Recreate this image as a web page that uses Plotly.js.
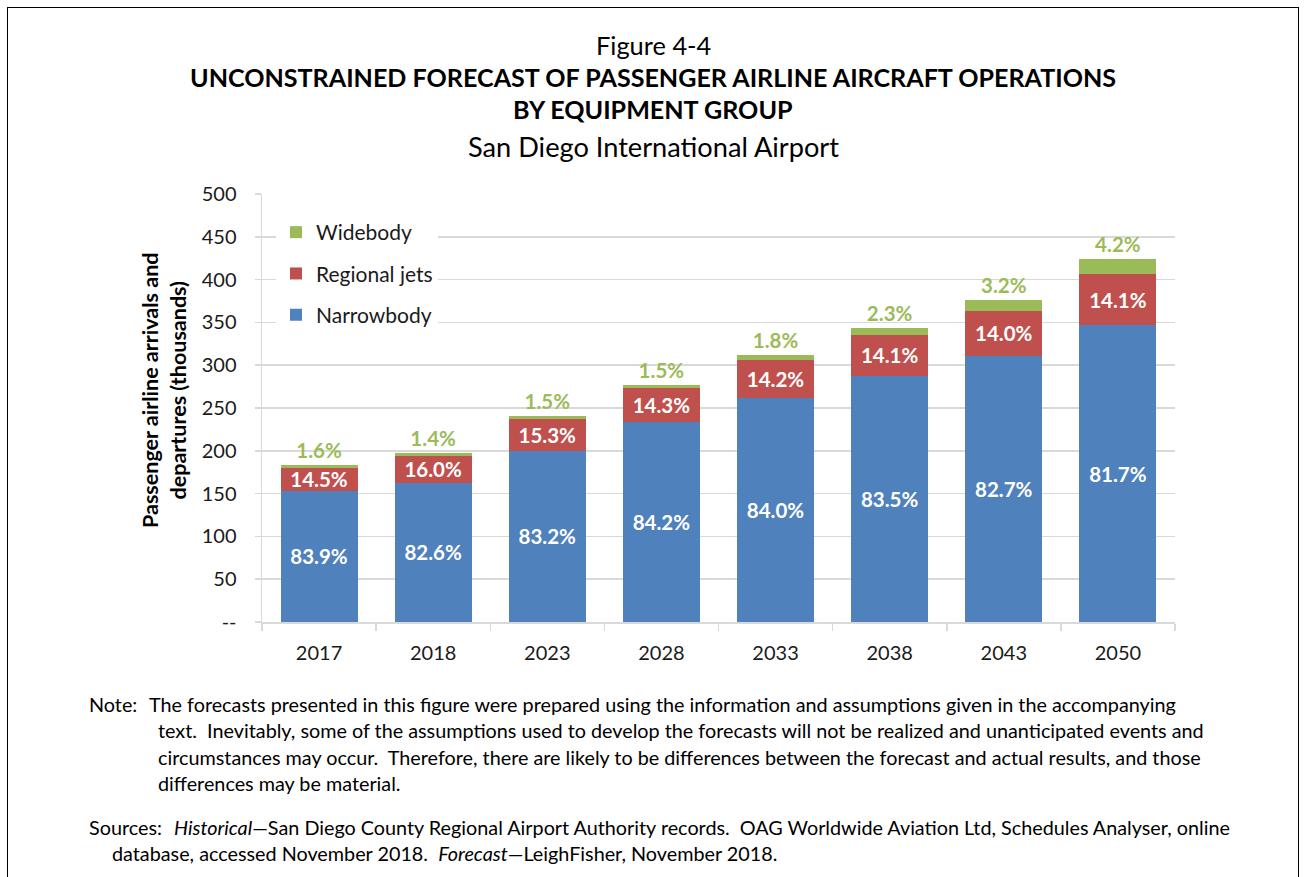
<!DOCTYPE html>
<html>
<head>
<meta charset="utf-8">
<script src="https://cdn.plot.ly/plotly-3.0.1.min.js"></script>
<style>
  html, body { margin: 0; padding: 0; background: #fff; }
  #wrap { position: relative; width: 1306px; height: 877px; overflow: hidden; }
  #frame { position: absolute; left: 7px; top: 7px; width: 1292px; height: 890px; border: 1.5px solid #000; box-sizing: border-box; pointer-events: none; }
  #chart { position: absolute; left: 0; top: 0; width: 1306px; height: 877px; }
</style>
</head>
<body>
<div id="wrap"><div id="chart"></div><div id="frame"></div></div>
<script>
// ---- data (thousands of annual arrivals + departures) ----
const years = ['2017', '2018', '2023', '2028', '2033', '2038', '2043', '2050'];
const narrowbody = [153.5, 162.7, 200.1, 233.2, 262.1, 287.2, 311.0, 346.4];
const regionalJets = [26.5, 31.5, 36.8, 39.6, 44.3, 48.5, 52.6, 59.8];
const widebody = [2.9, 2.8, 3.6, 4.2, 5.6, 7.9, 12.0, 17.8];
const narrowbodyPct = ['83.9%', '82.6%', '83.2%', '84.2%', '84.0%', '83.5%', '82.7%', '81.7%'];
const regionalPct = ['14.5%', '16.0%', '15.3%', '14.3%', '14.2%', '14.1%', '14.0%', '14.1%'];
const widebodyPct = ['1.6%', '1.4%', '1.5%', '1.5%', '1.8%', '2.3%', '3.2%', '4.2%'];
const yTickVals = [0, 50, 100, 150, 200, 250, 300, 350, 400, 450, 500];
const yTickText = ['--', '50', '100', '150', '200', '250', '300', '350', '400', '450', '500'];

// ---- layout geometry (pixels) ----
const W = 1306, H = 877;
const L = 262, R = 1175, T = 194, B = 622;
const px = x => (x - L) / (R - L);
const py = y => (B - y) / (B - T);
const FONT = 'Lato, "Open Sans", sans-serif';

const colors = { nb: '#4F81BD', rj: '#C0504D', wb: '#9BBB59' };

const traces = [
  {
    type: 'bar', name: 'Narrowbody', x: years, y: narrowbody,
    marker: { color: colors.nb }, text: narrowbodyPct,
    textposition: 'inside', insidetextanchor: 'middle', constraintext: 'none',
    textfont: { family: FONT, size: 20.5, color: '#fff', weight: 700 },
    legendgroup: 'nb', legendrank: 3, hoverinfo: 'x+y'
  },
  {
    type: 'bar', name: 'Regional jets', x: years, y: regionalJets,
    marker: { color: colors.rj }, text: regionalPct,
    textposition: 'inside', insidetextanchor: 'middle', constraintext: 'none',
    textfont: { family: FONT, size: 20.5, color: '#fff', weight: 700 },
    legendgroup: 'rj', legendrank: 2, hoverinfo: 'x+y'
  },
  {
    type: 'bar', name: 'Widebody', x: years, y: widebody,
    marker: { color: colors.wb }, text: widebodyPct,
    textposition: 'outside', constraintext: 'none', cliponaxis: false,
    textfont: { family: FONT, size: 20.5, color: colors.wb, weight: 700 },
    legendgroup: 'wb', legendrank: 1, hoverinfo: 'x+y'
  }
];

const noteFont = { family: FONT, size: 19.8, color: '#000' };
function noteLine(x, y, text) {
  return { xref: 'paper', yref: 'paper', x: px(x), y: py(y), xanchor: 'left', yanchor: 'middle',
           text: text, showarrow: false, align: 'left', font: noteFont };
}
function titleLine(y, text, size, bold) {
  return { xref: 'paper', yref: 'paper', x: px(W / 2), y: py(y), xanchor: 'center', yanchor: 'middle',
           text: text, showarrow: false, font: { family: FONT, size: size, color: '#000', weight: bold ? 700 : 400 } };
}

const annotations = [
  titleLine(45, 'Figure 4-4', 25.4, false),
  titleLine(77, 'UNCONSTRAINED FORECAST OF PASSENGER AIRLINE AIRCRAFT OPERATIONS', 25.1, true),
  titleLine(109, 'BY EQUIPMENT GROUP', 25.1, true),
  titleLine(147, 'San Diego International Airport', 27.2, false),
  {
    xref: 'paper', yref: 'paper', x: px(164), y: py(390), xanchor: 'center', yanchor: 'middle',
    text: 'Passenger airline arrivals and<br>departures (thousands)', textangle: -90, showarrow: false,
    font: { family: FONT, size: 21.5, color: '#000', weight: 700 }
  },
  noteLine(87, 704, 'Note:'),
  noteLine(147, 704, 'The forecasts presented in this figure were prepared using the information and assumptions given in the accompanying'),
  noteLine(156, 730, 'text.  Inevitably, some of the assumptions used to develop the forecasts will not be realized and unanticipated events and'),
  noteLine(156, 757, 'circumstances may occur.  Therefore, there are likely to be differences between the forecast and actual results, and those'),
  noteLine(156, 783, 'differences may be material.'),
  noteLine(87, 827, 'Sources:'),
  noteLine(172, 827, '<i>Historical</i>\u2014San Diego County Regional Airport Authority records.  OAG Worldwide Aviation Ltd, Schedules Analyser, online'),
  noteLine(110, 853, 'database, accessed November 2018.  <i>Forecast</i>\u2014LeighFisher, November 2018.')
];

const layout = {
  width: W, height: H,
  margin: { l: L, r: W - R, t: T, b: H - B, pad: 0 },
  paper_bgcolor: '#fff', plot_bgcolor: '#fff',
  barmode: 'stack', bargap: 0.325,
  font: { family: FONT, size: 20, color: '#1a1a1a' },
  showlegend: true,
  legend: {
    x: px(276), y: py(212), xanchor: 'left', yanchor: 'top',
    bgcolor: '#fff', borderwidth: 0,
    traceorder: 'grouped', tracegroupgap: 11,
    font: { family: FONT, size: 21, color: '#1a1a1a' },
    itemwidth: 30
  },
  xaxis: {
    type: 'category', showgrid: false, showline: true, linecolor: '#D9D9D9', linewidth: 1.5,
    ticks: 'outside', tickson: 'boundaries', ticklen: 7, tickcolor: '#D9D9D9', tickwidth: 1.5,
    ticklabelstandoff: 12,
    tickfont: { family: FONT, size: 20, color: '#1a1a1a' }, zeroline: false, fixedrange: true
  },
  yaxis: {
    range: [0, 500], tickvals: yTickVals, ticktext: yTickText,
    showgrid: true, gridcolor: '#D9D9D9', gridwidth: 1.5,
    showline: true, linecolor: '#D9D9D9', linewidth: 1.5,
    ticks: 'outside', ticklen: 6, tickcolor: '#D9D9D9', tickwidth: 1.5,
    ticklabelstandoff: 14,
    tickfont: { family: FONT, size: 20, color: '#1a1a1a' }, zeroline: false, fixedrange: true
  },
  annotations: annotations
};

Plotly.newPlot('chart', traces, layout, { displayModeBar: false, staticPlot: true });
</script>
</body>
</html>
